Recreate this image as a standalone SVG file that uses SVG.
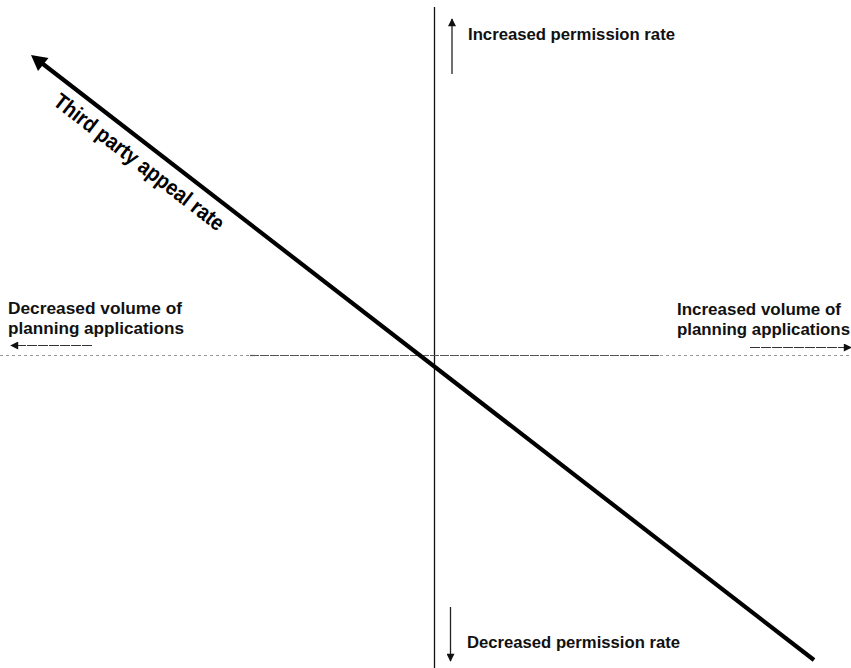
<svg xmlns="http://www.w3.org/2000/svg" width="851" height="668" viewBox="0 0 851 668">
<style>
.lbl{font-family:"Liberation Sans",Arial,sans-serif;font-weight:bold;font-size:16px;fill:#111}
.ax{stroke:#111;stroke-width:1.3;fill:none}
.thin{stroke:#222;stroke-width:1.3;fill:none}
</style>
<defs>
<marker id="ah" viewBox="0 0 10 10" refX="9" refY="5" markerWidth="9" markerHeight="8" markerUnits="userSpaceOnUse" orient="auto">
<path d="M0,0 L10,5 L0,10 z" fill="#111"/>
</marker>
</defs>
<rect width="851" height="668" fill="#fff"/>
<g id="connectors">
<line x1="434.5" y1="7" x2="434.5" y2="668" class="ax"/>
<line x1="0" y1="355.5" x2="250" y2="355.5" stroke="#999" stroke-width="1" stroke-dasharray="3 3"/>
<line x1="250" y1="355.5" x2="660" y2="355.5" stroke="#555" stroke-width="1.2" stroke-dasharray="9 1"/>
<line x1="660" y1="355.5" x2="851" y2="355.5" stroke="#999" stroke-width="1" stroke-dasharray="3 3"/>
<line x1="452" y1="74" x2="452" y2="19" class="thin" marker-end="url(#ah)"/>
<line x1="450.5" y1="607" x2="450.5" y2="661" class="thin" marker-end="url(#ah)"/>
<line x1="92" y1="345.5" x2="11" y2="345.5" stroke="#333" stroke-width="1.2" stroke-dasharray="10 1" marker-end="url(#ah)"/>
<line x1="750" y1="347.5" x2="851" y2="347.5" stroke="#333" stroke-width="1.2" stroke-dasharray="10 1" marker-end="url(#ah)"/>
</g>
<g id="appeal-rate">
<line x1="43" y1="64" x2="814" y2="660" stroke="#000" stroke-width="4.2"/>
<polygon points="31,55 38,71 48.5,58" fill="#000"/>
<text transform="translate(52,104) rotate(37.7)" font-family="'Liberation Sans Narrow','Liberation Sans',Arial,sans-serif" font-weight="bold" font-size="22" fill="#000" textLength="209" lengthAdjust="spacingAndGlyphs">Third party appeal rate</text>
</g>
<g id="increased-permission">
<text class="lbl" x="468" y="40" textLength="207" lengthAdjust="spacingAndGlyphs">Increased permission rate</text>
</g>
<g id="decreased-permission">
<text class="lbl" x="467" y="648" textLength="213" lengthAdjust="spacingAndGlyphs">Decreased permission rate</text>
</g>
<g id="decreased-volume">
<text class="lbl" x="8" y="314" textLength="174" lengthAdjust="spacingAndGlyphs">Decreased volume of</text>
<text class="lbl" x="8" y="334" textLength="176" lengthAdjust="spacingAndGlyphs">planning applications</text>
</g>
<g id="increased-volume">
<text class="lbl" x="677" y="315" textLength="164" lengthAdjust="spacingAndGlyphs">Increased volume of</text>
<text class="lbl" x="677" y="335" textLength="173" lengthAdjust="spacingAndGlyphs">planning applications</text>
</g>
</svg>
